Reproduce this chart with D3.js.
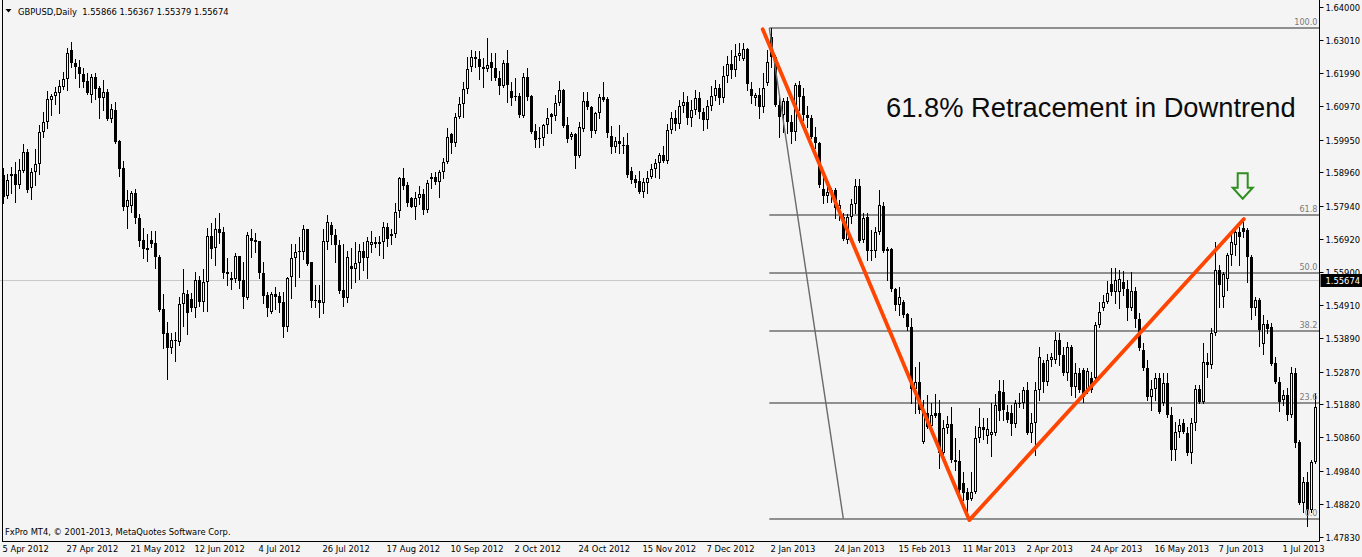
<!DOCTYPE html>
<html><head><meta charset="utf-8">
<script src="https://cdn.jsdelivr.net/npm/d3@7"></script>
<style>
html,body{margin:0;padding:0;background:#f4f4f4;overflow:hidden}
svg{display:block}
.t{font-family:"DejaVu Sans Condensed","DejaVu Sans",sans-serif;font-stretch:condensed;font-size:9.3px;white-space:pre}
</style></head><body>
<svg id="c" width="1362" height="557"></svg>
<script>
const symbol = "GBPUSD,Daily";
const lastQuote = ["1.55866","1.56367","1.55379","1.55674"];
const currentPrice = 1.55674;
const currentPriceLabel = "1.55674";
const copyright = "FxPro MT4, \u00A9 2001-2013, MetaQuotes Software Corp.";
const title = "61.8% Retracement in Downtrend";
const startDate = "2012-04-05";
const holidays = ["2012-12-25","2013-01-01"];

const open = [
1.5888,1.5823,1.5885,1.5891,1.5857,1.5900,1.5958,1.5848,1.5897,1.5921,
1.6019,1.6050,1.6117,1.6129,1.6138,1.6156,1.6181,1.6270,1.6230,1.6218,
1.6196,1.6175,1.6132,1.6187,1.6153,1.6123,1.6141,1.6059,1.6086,1.5991,
1.5909,1.5790,1.5793,1.5833,1.5756,1.5689,1.5664,1.5689,1.5680,1.5637,
1.5478,1.5405,1.5359,1.5380,1.5377,1.5493,1.5524,1.5509,1.5481,1.5567,
1.5499,1.5561,1.5701,1.5664,1.5722,1.5713,1.5591,1.5567,1.5570,1.5640,
1.5567,1.5512,1.5695,1.5689,1.5686,1.5588,1.5521,1.5469,1.5524,1.5518,
1.5499,1.5423,1.5576,1.5634,1.5652,1.5652,1.5722,1.5622,1.5506,1.5506,
1.5496,1.5683,1.5735,1.5704,1.5674,1.5536,1.5512,1.5609,1.5600,1.5619,
1.5655,1.5634,1.5674,1.5683,1.5677,1.5683,1.5729,1.5707,1.5707,1.5778,
1.5878,1.5857,1.5817,1.5790,1.5817,1.5829,1.5781,1.5875,1.5881,1.5866,
1.5897,1.5927,1.6013,1.5985,1.6065,1.6105,1.6150,1.6218,1.6248,1.6242,
1.6218,1.6211,1.6233,1.6215,1.6184,1.6160,1.6230,1.6144,1.6129,1.6129,
1.6068,1.6187,1.6129,1.6022,1.6001,1.6001,1.6040,1.6074,1.6068,1.6108,
1.6147,1.6040,1.6004,1.6013,1.5946,1.6028,1.6114,1.6095,1.6022,1.6077,
1.6126,1.6120,1.6007,1.5973,1.5991,1.5979,1.5979,1.5900,1.5875,1.5869,
1.5836,1.5863,1.5881,1.5906,1.5924,1.5949,1.5930,1.6025,1.6062,1.6043,
1.6098,1.6111,1.6062,1.6086,1.6123,1.6080,1.6056,1.6098,1.6129,1.6153,
1.6123,1.6190,1.6227,1.6208,1.6251,1.6242,1.6273,1.6150,1.6123,1.6132,
1.6095,1.6169,1.6309,1.6248,1.6101,1.6071,1.6114,1.6050,1.6019,1.6163,
1.6129,1.6071,1.6062,1.6004,1.5985,1.5845,1.5823,1.5833,1.5842,1.5784,
1.5759,1.5689,1.5759,1.5799,1.5854,1.5689,1.5759,1.5658,1.5655,1.5713,
1.5793,1.5655,1.5661,1.5539,1.5490,1.5499,1.5463,1.5423,1.5234,1.5255,
1.5072,1.5160,1.5121,1.5160,1.5160,1.5038,1.5114,1.5127,1.5017,1.5013,
1.4946,1.4919,1.4897,1.4919,1.5084,1.5117,1.5090,1.5093,1.5099,1.5227,
1.5224,1.5163,1.5160,1.5127,1.5188,1.5191,1.5231,1.5099,1.5130,1.5231,
1.5313,1.5255,1.5322,1.5322,1.5383,1.5337,1.5282,1.5362,1.5240,1.5282,
1.5292,1.5231,1.5267,1.5267,1.5429,1.5481,1.5499,1.5554,1.5530,1.5530,
1.5561,1.5539,1.5481,1.5533,1.5448,1.5353,1.5298,1.5209,1.5234,1.5267,
1.5191,1.5252,1.5154,1.5047,1.5102,1.5130,1.5099,1.5038,1.5130,1.5234,
1.5194,1.5316,1.5307,1.5405,1.5597,1.5515,1.5570,1.5643,1.5674,1.5713,
1.5726,1.5719,1.5637,1.5481,1.5506,1.5371,1.5432,1.5423,1.5313,1.5255,
1.5200,1.5215,1.5154,1.5282,1.5072,1.4885,1.4949,1.4864,1.5010];

const high = [
1.5909,1.5891,1.5912,1.5927,1.5936,1.5982,1.5967,1.5909,1.5967,1.6040,
1.6080,1.6144,1.6135,1.6156,1.6178,1.6202,1.6276,1.6294,1.6242,1.6239,
1.6215,1.6199,1.6196,1.6199,1.6160,1.6178,1.6150,1.6105,1.6111,1.5995,
1.5930,1.5842,1.5839,1.5845,1.5768,1.5726,1.5707,1.5716,1.5716,1.5643,
1.5524,1.5438,1.5405,1.5408,1.5515,1.5600,1.5536,1.5527,1.5591,1.5579,
1.5600,1.5726,1.5741,1.5756,1.5771,1.5729,1.5634,1.5591,1.5649,1.5640,
1.5622,1.5713,1.5722,1.5710,1.5686,1.5622,1.5530,1.5530,1.5545,1.5530,
1.5530,1.5576,1.5677,1.5677,1.5698,1.5735,1.5722,1.5622,1.5551,1.5551,
1.5722,1.5765,1.5744,1.5722,1.5689,1.5677,1.5655,1.5664,1.5683,1.5677,
1.5683,1.5698,1.5716,1.5698,1.5701,1.5744,1.5741,1.5722,1.5802,1.5881,
1.5909,1.5866,1.5819,1.5836,1.5854,1.5845,1.5872,1.5894,1.5897,1.5903,
1.5939,1.6031,1.6016,1.6077,1.6126,1.6172,1.6248,1.6270,1.6266,1.6266,
1.6245,1.6306,1.6260,1.6260,1.6205,1.6239,1.6270,1.6172,1.6184,1.6138,
1.6199,1.6215,1.6132,1.6043,1.6034,1.6043,1.6092,1.6077,1.6132,1.6175,
1.6149,1.6065,1.6019,1.6016,1.6050,1.6141,1.6141,1.6097,1.6080,1.6135,
1.6172,1.6126,1.6037,1.6004,1.6040,1.6004,1.6016,1.5912,1.5888,1.5900,
1.5878,1.5900,1.5921,1.5936,1.5955,1.5976,1.6043,1.6080,1.6086,1.6117,
1.6141,1.6129,1.6117,1.6147,1.6141,1.6092,1.6117,1.6160,1.6178,1.6166,
1.6221,1.6251,1.6270,1.6288,1.6291,1.6291,1.6276,1.6172,1.6138,1.6153,
1.6199,1.6270,1.6337,1.6254,1.6126,1.6123,1.6126,1.6071,1.6169,1.6175,
1.6153,1.6098,1.6071,1.6034,1.5988,1.5894,1.5863,1.5848,1.5848,1.5811,
1.5771,1.5768,1.5814,1.5875,1.5875,1.5771,1.5771,1.5719,1.5729,1.5842,
1.5805,1.5668,1.5663,1.5542,1.5545,1.5506,1.5466,1.5451,1.5301,1.5316,
1.5200,1.5215,1.5191,1.5218,1.5200,1.5139,1.5151,1.5179,1.5084,1.5047,
1.4980,1.4931,1.4980,1.5121,1.5175,1.5145,1.5145,1.5191,1.5218,1.5261,
1.5261,1.5185,1.5185,1.5200,1.5221,1.5240,1.5255,1.5160,1.5255,1.5362,
1.5322,1.5341,1.5344,1.5408,1.5405,1.5362,1.5377,1.5368,1.5313,1.5298,
1.5298,1.5298,1.5285,1.5438,1.5499,1.5521,1.5564,1.5603,1.5603,1.5597,
1.5594,1.5567,1.5591,1.5545,1.5466,1.5374,1.5322,1.5261,1.5282,1.5282,
1.5282,1.5282,1.5179,1.5133,1.5142,1.5142,1.5117,1.5145,1.5246,1.5246,
1.5374,1.5344,1.5420,1.5683,1.5612,1.5591,1.5649,1.5710,1.5729,1.5729,
1.5750,1.5726,1.5643,1.5515,1.5512,1.5460,1.5444,1.5435,1.5331,1.5270,
1.5231,1.5237,1.5301,1.5298,1.5078,1.4965,1.4980,1.5017,1.5221];

const low = [
1.5802,1.5817,1.5833,1.5805,1.5848,1.5897,1.5836,1.5814,1.5857,1.5891,
1.6004,1.6031,1.6071,1.6105,1.6077,1.6150,1.6147,1.6218,1.6184,1.6156,
1.6156,1.6135,1.6111,1.6120,1.6062,1.6086,1.6056,1.6050,1.5985,1.5885,
1.5781,1.5726,1.5774,1.5741,1.5671,1.5634,1.5625,1.5668,1.5603,1.5472,
1.5359,1.5264,1.5344,1.5319,1.5368,1.5426,1.5402,1.5472,1.5454,1.5487,
1.5472,1.5472,1.5634,1.5612,1.5680,1.5573,1.5551,1.5539,1.5561,1.5542,
1.5481,1.5509,1.5637,1.5652,1.5573,1.5496,1.5457,1.5466,1.5478,1.5469,
1.5392,1.5411,1.5512,1.5548,1.5576,1.5631,1.5612,1.5484,1.5484,1.5454,
1.5466,1.5661,1.5677,1.5622,1.5527,1.5487,1.5499,1.5542,1.5561,1.5570,
1.5597,1.5573,1.5652,1.5668,1.5643,1.5634,1.5671,1.5677,1.5698,1.5759,
1.5845,1.5793,1.5790,1.5753,1.5799,1.5768,1.5774,1.5848,1.5860,1.5820,
1.5878,1.5924,1.5955,1.5976,1.6062,1.6065,1.6138,1.6205,1.6218,1.6181,
1.6156,1.6205,1.6178,1.6178,1.6135,1.6156,1.6111,1.6101,1.6117,1.6065,
1.6066,1.6117,1.6016,1.5973,1.5973,1.5979,1.6016,1.6016,1.6056,1.6101,
1.6035,1.5988,1.5998,1.5909,1.5943,1.6022,1.6089,1.6004,1.6016,1.6062,
1.6114,1.6004,1.5955,1.5958,1.5955,1.5955,1.5881,1.5863,1.5851,1.5833,
1.5820,1.5833,1.5878,1.5881,1.5878,1.5927,1.5924,1.6016,1.6025,1.6031,
1.6080,1.6043,1.6037,1.6074,1.6062,1.6025,1.6031,1.6086,1.6117,1.6105,
1.6111,1.6172,1.6184,1.6190,1.6239,1.6239,1.6147,1.6108,1.6101,1.6062,
1.6080,1.6163,1.6218,1.6098,1.6004,1.6019,1.6016,1.5985,1.5995,1.6086,
1.6056,1.6034,1.6001,1.5970,1.5851,1.5802,1.5805,1.5805,1.5756,1.5750,
1.5689,1.5680,1.5741,1.5771,1.5684,1.5683,1.5628,1.5628,1.5637,1.5707,
1.5652,1.5567,1.5533,1.5475,1.5460,1.5454,1.5414,1.5191,1.5160,1.5160,
1.5069,1.5115,1.5099,1.5148,1.4992,1.5017,1.5099,1.5010,1.4986,1.4916,
1.4894,1.4839,1.4894,1.4916,1.5072,1.5081,1.5069,1.5029,1.5093,1.5139,
1.5139,1.5133,1.5093,1.5117,1.5179,1.5175,1.5097,1.5072,1.5032,1.5200,
1.5224,1.5246,1.5304,1.5313,1.5307,1.5276,1.5261,1.5215,1.5209,1.5224,
1.5194,1.5221,1.5224,1.5261,1.5423,1.5475,1.5496,1.5521,1.5496,1.5481,
1.5521,1.5444,1.5475,1.5423,1.5353,1.5292,1.5200,1.5169,1.5200,1.5160,
1.5185,1.5148,1.5017,1.5017,1.5087,1.5099,1.5032,1.5007,1.5108,1.5191,
1.5191,1.5270,1.5298,1.5399,1.5484,1.5484,1.5536,1.5612,1.5643,1.5612,
1.5698,1.5561,1.5448,1.5460,1.5365,1.5341,1.5405,1.5307,1.5252,1.5166,
1.5185,1.5139,1.5148,1.5056,1.4882,1.4858,1.4815,1.4858,1.5007];

const close = [
1.5820,1.5872,1.5891,1.5857,1.5903,1.5958,1.5842,1.5897,1.5921,1.6019,
1.6050,1.6120,1.6129,1.6141,1.6160,1.6181,1.6260,1.6230,1.6218,1.6196,
1.6172,1.6138,1.6187,1.6150,1.6123,1.6141,1.6059,1.6089,1.5988,1.5906,
1.5790,1.5811,1.5833,1.5756,1.5686,1.5661,1.5658,1.5677,1.5637,1.5475,
1.5402,1.5359,1.5383,1.5383,1.5493,1.5527,1.5466,1.5481,1.5567,1.5499,
1.5561,1.5701,1.5661,1.5722,1.5710,1.5588,1.5585,1.5573,1.5640,1.5564,
1.5515,1.5704,1.5686,1.5683,1.5588,1.5518,1.5481,1.5524,1.5515,1.5496,
1.5423,1.5573,1.5634,1.5652,1.5655,1.5722,1.5616,1.5502,1.5502,1.5496,
1.5686,1.5744,1.5704,1.5674,1.5533,1.5512,1.5637,1.5600,1.5619,1.5655,
1.5634,1.5686,1.5683,1.5677,1.5683,1.5729,1.5692,1.5701,1.5774,1.5878,
1.5854,1.5802,1.5790,1.5817,1.5829,1.5781,1.5863,1.5881,1.5866,1.5897,
1.5927,1.6004,1.5985,1.6065,1.6105,1.6150,1.6211,1.6248,1.6242,1.6218,
1.6211,1.6224,1.6215,1.6184,1.6160,1.6230,1.6163,1.6123,1.6126,1.6071,
1.6187,1.6126,1.6019,1.5995,1.5998,1.6040,1.6062,1.6065,1.6108,1.6147,
1.6037,1.5998,1.6013,1.5946,1.6034,1.6114,1.6095,1.6022,1.6077,1.6126,
1.6117,1.6016,1.5973,1.5991,1.5982,1.5976,1.5888,1.5872,1.5863,1.5836,
1.5866,1.5878,1.5906,1.5924,1.5949,1.5930,1.6025,1.6062,1.6043,1.6098,
1.6111,1.6062,1.6086,1.6123,1.6080,1.6056,1.6098,1.6129,1.6153,1.6123,
1.6190,1.6227,1.6208,1.6251,1.6260,1.6273,1.6166,1.6129,1.6132,1.6095,
1.6153,1.6233,1.6248,1.6101,1.6065,1.6114,1.6050,1.6019,1.6163,1.6126,
1.6071,1.6062,1.6004,1.5985,1.5857,1.5823,1.5836,1.5842,1.5787,1.5796,
1.5692,1.5759,1.5799,1.5854,1.5686,1.5756,1.5655,1.5655,1.5713,1.5796,
1.5655,1.5661,1.5539,1.5490,1.5515,1.5460,1.5423,1.5234,1.5255,1.5169,
1.5169,1.5117,1.5154,1.5151,1.5038,1.5114,1.5127,1.5017,1.5010,1.4925,
1.4916,1.4894,1.4919,1.5084,1.5117,1.5108,1.5111,1.5102,1.5185,1.5166,
1.5169,1.5139,1.5127,1.5191,1.5191,1.5231,1.5099,1.5130,1.5231,1.5331,
1.5255,1.5322,1.5331,1.5383,1.5337,1.5282,1.5362,1.5240,1.5282,1.5231,
1.5209,1.5289,1.5231,1.5429,1.5469,1.5499,1.5527,1.5530,1.5567,1.5570,
1.5539,1.5481,1.5533,1.5448,1.5359,1.5298,1.5209,1.5234,1.5267,1.5163,
1.5252,1.5154,1.5047,1.5102,1.5124,1.5102,1.5038,1.5130,1.5234,1.5194,
1.5316,1.5307,1.5405,1.5597,1.5551,1.5585,1.5643,1.5683,1.5713,1.5698,
1.5713,1.5637,1.5481,1.5506,1.5414,1.5432,1.5417,1.5310,1.5255,1.5194,
1.5215,1.5154,1.5282,1.5069,1.4885,1.4949,1.4864,1.5010,1.5179];

const xTickLabels = ["5 Apr 2012","27 Apr 2012","21 May 2012","12 Jun 2012","4 Jul 2012","26 Jul 2012",
"17 Aug 2012","10 Sep 2012","2 Oct 2012","24 Oct 2012","15 Nov 2012","7 Dec 2012","2 Jan 2013",
"24 Jan 2013","15 Feb 2013","11 Mar 2013","2 Apr 2013","24 Apr 2013","16 May 2013","7 Jun 2013","1 Jul 2013"];
const yTickLabels = ["1.64000","1.63010","1.61990","1.60970","1.59950","1.58960","1.57940","1.56920",
"1.55900","1.54910","1.53890","1.52870","1.51880","1.50860","1.49840","1.48820","1.47830"];

const fibLevels = [100.0, 61.8, 50.0, 38.2, 23.6, 0.0];
const fibLabels = ["100.0","61.8","50.0","38.2","23.6","0.0"];
const fibHighPrice = 1.63367, fibLowPrice = 1.48378;
const fibStartBar = 191.45, fibEndBar = 209.95;
const swingBars = [189.8, 241.45, 310.1];
const swingPrices = [1.6333, 1.4833, 1.5753];
const arrowBar = 309.8, arrowPrice = 1.5815;

// ---------- build ----------
const W = 1362, H = 557;
const plotRight = 1319.5, plotBottom = 541.5;
const n = Math.min(open.length, high.length, low.length, close.length);
const bg = "#f4f4f4";

const dates = [];
{
  const d = new Date(startDate + "T00:00:00Z");
  while (dates.length < n) {
    const iso = d.toISOString().slice(0, 10);
    const wd = d.getUTCDay();
    if (wd !== 0 && wd !== 6 && !holidays.includes(iso)) dates.push(new Date(d));
    d.setUTCDate(d.getUTCDate() + 1);
  }
}
const fmt = d3.utcFormat("%-d %b %Y");

const x = d3.scaleLinear().domain([0, n - 1]).range([3.5, 3.5 + 4 * (n - 1)]);
const y = d3.scaleLinear().domain([1.4783, 1.6400]).range([536.5, 7.3]);
const ry = v => Math.round(y(v));

const svg = d3.select("#c");
svg.append("rect").attr("width", W).attr("height", H).attr("fill", bg);

svg.append("clipPath").attr("id", "plot").append("rect")
  .attr("x", 0).attr("y", 0).attr("width", plotRight).attr("height", plotBottom);

const plot = svg.append("g").attr("clip-path", "url(#plot)");

// current price line
plot.append("line").attr("x1", 0).attr("x2", plotRight)
  .attr("y1", ry(currentPrice) + 0.5).attr("y2", ry(currentPrice) + 0.5)
  .attr("stroke", "#c8c8c8").attr("stroke-width", 1);

// fibonacci levels
const fibPrice = l => fibLowPrice + (fibHighPrice - fibLowPrice) * l / 100;
plot.append("g").selectAll("line").data(fibLevels).join("line")
  .attr("x1", x(fibStartBar)).attr("x2", plotRight)
  .attr("y1", l => ry(fibPrice(l))).attr("y2", l => ry(fibPrice(l)))
  .attr("stroke", "#6e6e6e").attr("stroke-width", 1.7);

// candles
const idx = d3.range(n);
const cg = plot.append("g").attr("shape-rendering", "crispEdges");
cg.selectAll("line").data(idx).join("line")
  .attr("x1", i => x(i)).attr("x2", i => x(i))
  .attr("y1", i => ry(high[i])).attr("y2", i => ry(low[i]) + 1)
  .attr("stroke", "#000").attr("stroke-width", 1);
cg.selectAll("rect").data(idx).join("rect")
  .each(function (i) {
    const top = ry(Math.max(open[i], close[i]));
    const bot = ry(Math.min(open[i], close[i]));
    const h = bot - top;
    const r = d3.select(this);
    if (close[i] >= open[i] && h >= 2) {
      r.attr("x", x(i) - 1).attr("y", top + 0.5).attr("width", 2).attr("height", h - 1)
        .attr("fill", bg).attr("stroke", "#000").attr("stroke-width", 1);
    } else {
      r.attr("x", x(i) - 1.5).attr("y", top).attr("width", 3).attr("height", Math.max(1, h))
        .attr("fill", "#000");
    }
  });

// fibo trend line
plot.append("line")
  .attr("x1", x(fibStartBar)).attr("y1", y(fibHighPrice))
  .attr("x2", x(fibEndBar)).attr("y2", y(fibLowPrice))
  .attr("stroke", "#6a6a6a").attr("stroke-width", 1.4);

// swing lines (orange)
const swing = d3.line().x(d => x(d[0])).y(d => y(d[1]));
plot.append("path").datum(swingBars.map((b, k) => [b, swingPrices[k]]))
  .attr("d", swing).attr("fill", "none").attr("stroke", "#ff4500")
  .attr("stroke-width", 3.8).attr("stroke-linecap", "round").attr("stroke-linejoin", "round");

// fib labels
plot.append("g").selectAll("text").data(fibLevels).join("text")
  .attr("class", "t").attr("x", plotRight - 2).attr("y", l => ry(fibPrice(l)) - 3)
  .attr("text-anchor", "end").attr("fill", "#7a7a7a").style("font-size", "9px")
  .text((l, k) => fibLabels[k]);

// title
svg.append("text").attr("x", 886).attr("y", 116.5)
  .attr("font-family", "'Liberation Sans', Arial, sans-serif").attr("font-size", 27.3)
  .attr("fill", "#0c0c0c").text(title);

// arrow (hollow down arrow pointing at the 61.8 touch)
{
  const ax = x(arrowBar), ay = y(arrowPrice);
  const pts = [[-5, -25.5], [5, -25.5], [5, -11], [10, -11], [0, 0], [-10, -11], [-5, -11]];
  svg.append("polygon").attr("points", pts.map(p => [ax + p[0], ay + p[1]].join(",")).join(" "))
    .attr("fill", "none").attr("stroke", "#2f8f1f").attr("stroke-width", 2);
}

// header
svg.append("path").attr("d", "M5.5,9 L11.5,9 L8.5,12.5 Z").attr("fill", "#000");
svg.append("text").attr("class", "t").attr("x", 18).attr("y", 14.5).attr("fill", "#000")
  .text(symbol + "  " + lastQuote.join(" "));

// copyright
svg.append("text").attr("class", "t").attr("x", 5).attr("y", 535).attr("fill", "#000")
  .text(copyright);

// borders
svg.append("line").attr("x1", 2.5).attr("x2", 2.5).attr("y1", 0).attr("y2", plotBottom)
  .attr("stroke", "#000");
svg.append("line").attr("x1", plotRight).attr("x2", plotRight).attr("y1", 0).attr("y2", plotBottom)
  .attr("stroke", "#000");
svg.append("line").attr("x1", 2).attr("x2", plotRight).attr("y1", plotBottom).attr("y2", plotBottom)
  .attr("stroke", "#000");

// right axis
const ya = svg.append("g");
ya.selectAll("line").data(yTickLabels).join("line")
  .attr("x1", plotRight).attr("x2", plotRight + 4)
  .attr("y1", s => ry(+s) + 0.5).attr("y2", s => ry(+s) + 0.5).attr("stroke", "#000");
ya.selectAll("text").data(yTickLabels).join("text")
  .attr("class", "t").attr("x", plotRight + 6).attr("y", s => ry(+s) + 3.5)
  .attr("fill", "#000").text(s => s);

// current price tag
ya.append("rect").attr("x", plotRight + 1).attr("y", ry(currentPrice) - 6)
  .attr("width", W - plotRight - 1).attr("height", 13).attr("fill", "#000");
ya.append("text").attr("class", "t").attr("x", plotRight + 6).attr("y", ry(currentPrice) + 4)
  .attr("fill", "#fff").text(currentPriceLabel);

// bottom axis
const xa = svg.append("g");
const xt = xTickLabels.map(s => ({ s, i: dates.findIndex(d => fmt(d) === s) })).filter(o => o.i >= 0);
xa.selectAll("text").data(xt).join("text")
  .attr("class", "t").attr("x", o => x(o.i) - 1).attr("y", 552)
  .attr("fill", "#000").text(o => o.s);
</script>
</body></html>
